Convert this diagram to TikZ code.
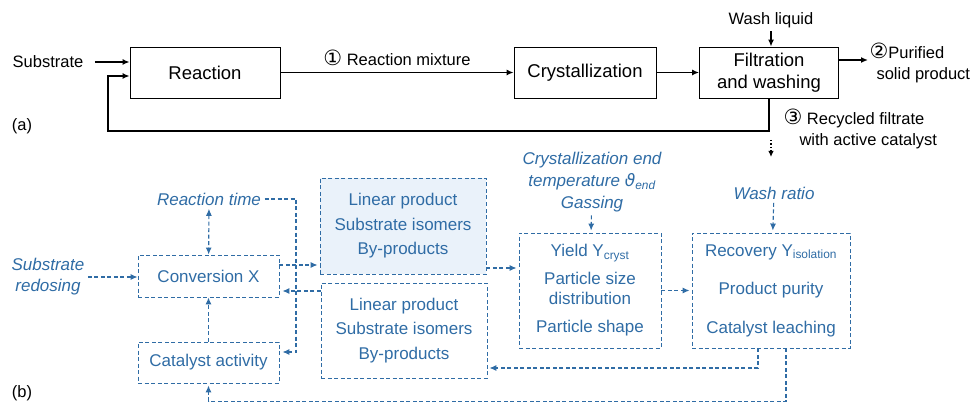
\documentclass[tikz,border=0pt]{standalone}
\usepackage{fontspec}
\setmainfont{Liberation Sans}
\newfontfamily\symfont{DejaVu Sans}
\usetikzlibrary{arrows.meta}
\usepackage{xcolor}
\definecolor{flowblue}{HTML}{2F6CA5}
\definecolor{paleblue}{HTML}{EAF2FA}
\newcommand{\circnum}[1]{{\symfont\fontsize{21}{19}\selectfont #1}}
\tikzset{
  unitbox/.style={draw=black,line width=0.8pt,minimum height=51pt,align=center,font=\fontsize{18.5}{22}\selectfont},
  flow/.style={line width=1.6pt,-{Latex[length=7pt,width=6pt]}},
  plain/.style={font=\fontsize{16.5}{21}\selectfont},
  varbox/.style={draw=flowblue,dash pattern=on 4pt off 2.5pt,line width=0.9pt,text=flowblue,align=center,font=\fontsize{17}{24.5}\selectfont},
  dflow/.style={draw=flowblue,dash pattern=on 4pt off 2.5pt,line width=1.1pt,-{Latex[length=7pt,width=6pt]}},
  param/.style={text=flowblue,align=center,font=\fontsize{17}{21}\selectfont\itshape}
}

\begin{document}
\begin{tikzpicture}[x=1pt,y=-1pt]
\useasboundingbox (0,0) rectangle (973,403);

% (a) process chain
\node[unitbox,minimum width=150pt] (react) at (205,72.5) {Reaction};
\node[unitbox,minimum width=142pt] (cryst) at (585,72.5) {Crystallization};
\node[unitbox,minimum width=139pt] (filt) at (769,72.5) {Filtration\\and washing};
\node[plain] (subst) at (48,62) {Substrate};
\node[plain] (wash) at (771,20) {Wash liquid};
\node[plain] (mixlbl) at (397,58) {\circnum{①} Reaction mixture};
\node[plain,anchor=west,align=left] (prodlbl) at (866,63) {\circnum{②}Purified\\\hspace*{7pt}solid product};
\node[plain,anchor=west,align=left] (filtlbl) at (780,128.5) {\circnum{③} Recycled filtrate\\\hspace*{16pt}with active catalyst};
\node[plain] (tagA) at (22,126) {(a)};
\coordinate (prodend) at (868,60);
\coordinate (recyc) at (108,131);
\coordinate (tapA) at (771,140);
\coordinate (tapB) at (771,157);

\draw[flow] ([xshift=8pt]subst.east) -- (react.west |- subst.east);
\draw[flow] (react) -- (cryst);
\draw[flow] (cryst) -- (filt);
\draw[flow] (wash) -- (wash |- filt.north);
\draw[flow] (filt.east |- prodend) -- (prodend);
\draw[flow] (filt.south) |- (recyc) |- ([yshift=-3.5pt]react.west);
\draw[line width=1.5pt,dotted,-{Latex[length=6pt,width=5.5pt]}] (tapA) -- (tapB);

% (b) influencing variables
\node[varbox,minimum width=141pt,minimum height=42pt] (conv) at (208.5,276) {Conversion X};
\node[varbox,minimum width=141pt,minimum height=41pt] (cat) at (208.5,362.5) {Catalyst activity};
\node[varbox,fill=paleblue,minimum width=166pt,minimum height=96pt] (linA) at (403,226) {Linear product\\Substrate isomers\\By-products};
\node[varbox,minimum width=166pt,minimum height=95pt] (linB) at (404,330.5) {Linear product\\Substrate isomers\\By-products};
\node[varbox,minimum width=142pt,minimum height=115pt,font=\fontsize{17}{20}\selectfont] (yield) at (590,290.5) {Yield Y\textsubscript{cryst}\\[8pt]Particle size\\distribution\\[8pt]Particle shape};
\node[varbox,minimum width=158pt,minimum height=115pt,font=\fontsize{17}{38.5}\selectfont] (rec) at (771,290.5) {Recovery Y\textsubscript{isolation}\\Product purity\\Catalyst leaching};
\node[param] (redose) at (48,277) {Substrate\\redosing};
\node[param] (rtime) at (209,199) {Reaction time};
\node[param,font=\fontsize{17}{22}\selectfont\itshape] (crend) at (592,182) {Crystallization end\\temperature {\symfont\itshape ϑ}\textsubscript{end}\\Gassing};
\node[param] (wratio) at (774,193) {Wash ratio};
\node[plain] (tagB) at (22,393) {(b)};
\coordinate (bendA) at (296,199);

\draw[dflow] (redose) -- (conv.west |- redose);
\draw[dflow,{Latex[length=7pt,width=6pt]}-{Latex[length=7pt,width=6pt]}] (rtime) -- (conv);
\draw[dflow,shorten >=3pt] (rtime.east) -- (bendA) |- ([yshift=10.5pt]cat.east);
\draw[dflow] (cat) -- (conv);
\draw[dflow,shorten >=2pt] ([yshift=11pt]conv.east) -- ([yshift=11pt]conv.east -| linA.west);
\draw[dflow,shorten >=3pt] ([yshift=-15pt]conv.east -| linB.west) -- ([yshift=-15pt]conv.east);
\draw[dflow,shorten >=2pt] ([yshift=-42pt]linA.east) -- ([yshift=-42pt]linA.east -| yield.west);
\draw[dflow,shorten >=2pt] (yield) -- (rec);
\draw[dflow,shorten >=2pt] (crend) -- (yield);
\draw[dflow,shorten >=2pt] (wratio) -- (rec);
\draw[dflow,shorten >=2pt] ([xshift=-13pt]rec.south) |- ([yshift=-37.5pt]linB.east);
\draw[dflow,shorten >=2pt] ([xshift=15pt]rec.south) -- ++(0,53) -| (cat.south);
\end{tikzpicture}
\end{document}
